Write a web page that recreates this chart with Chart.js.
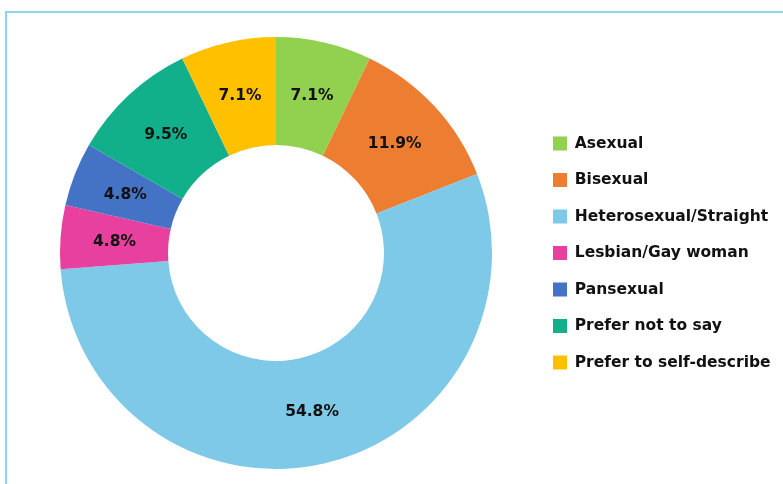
<!DOCTYPE html>
<html>
<head>
<meta charset="utf-8">
<script src="https://cdn.jsdelivr.net/npm/chart.js@4.4.0/dist/chart.umd.min.js"></script>
<style>
  html, body { margin: 0; padding: 0; background: #fff; }
  #wrap { position: relative; width: 783px; height: 484px; }
  #frame { position: absolute; left: 5px; top: 11px; right: 0; bottom: 0;
           border-left: 2px solid #8fd4ee; border-top: 2px solid #8fd4ee; }
  canvas { position: absolute; left: 0; top: 0; }
</style>
</head>
<body>
<div id="wrap">
  <div id="frame"></div>
  <canvas id="doughnut" width="783" height="484"></canvas>
</div>
<script>
// respondents by orientation (counts, total 42)
var categories = ['Asexual', 'Bisexual', 'Heterosexual/Straight', 'Lesbian/Gay woman',
                  'Pansexual', 'Prefer not to say', 'Prefer to self-describe'];
var counts = [3, 5, 23, 2, 2, 4, 3];
var sliceColors = ['#92d050', '#ed7d31', '#7ec8e8', '#e8409e', '#4472c4', '#12b08a', '#ffc000'];

var FONT = '"DejaVu Sans", sans-serif';
var legendSize = 15.5, legendPad = 21, boxW = 14;

// writes the % on each slice
var sliceLabels = {
    id: 'sliceLabels',
    afterDatasetsDraw: function (chart) {
        var ctx = chart.ctx;
        var meta = chart.getDatasetMeta(0);
        var total = counts.reduce(function (a, b) { return a + b; }, 0);
        ctx.save();
        ctx.font = '700 15.5px ' + FONT;
        ctx.fillStyle = '#111';
        ctx.textAlign = 'center';
        ctx.textBaseline = 'middle';
        meta.data.forEach(function (arc, i) {
            var p = arc.tooltipPosition();
            ctx.fillText((counts[i] / total * 100).toFixed(1) + '%', p.x, p.y + 1);
        });
        ctx.restore();
    }
};

var ctx = document.getElementById('doughnut').getContext('2d');

// legend box should start near x=553; work out the right padding from the text width
ctx.font = '700 ' + legendSize + 'px ' + FONT;
var maxText = Math.max.apply(null, categories.map(function (c) { return ctx.measureText(c).width; }));
var legendLeft = 553 - legendPad;
var legendWidth = legendPad + boxW + legendSize / 2 + maxText + 10;
var padRight = Math.max(0, 783 - legendLeft - legendWidth);
var padLeft = 2 * 276 - legendLeft;

var myChart = new Chart(ctx, {
    type: 'doughnut',
    data: {
        labels: categories,
        datasets: [{
            data: counts,
            backgroundColor: sliceColors,
            borderWidth: 0
        }]
    },
    options: {
        responsive: false,
        animation: false,
        cutout: '50%',
        layout: { padding: { left: padLeft, right: padRight, top: 37, bottom: 15 } },
        plugins: {
            tooltip: { enabled: false },
            legend: {
                position: 'right',
                align: 'center',
                labels: {
                    boxWidth: boxW,
                    boxHeight: 14,
                    padding: legendPad,
                    color: '#111',
                    font: { family: FONT, size: legendSize, weight: '700' }
                }
            }
        }
    },
    plugins: [sliceLabels]
});
</script>
</body>
</html>
